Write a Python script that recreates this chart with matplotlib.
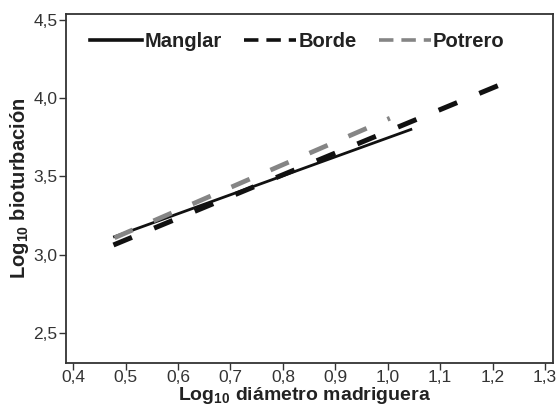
import numpy as np
import matplotlib
matplotlib.use('Agg')
import matplotlib.pyplot as plt
from matplotlib.ticker import FuncFormatter
from matplotlib.lines import Line2D

plt.rcParams['font.family'] = ['Liberation Sans', 'DejaVu Sans']
plt.rcParams['mathtext.fontset'] = 'custom'
plt.rcParams['mathtext.rm'] = 'Liberation Sans'
plt.rcParams['mathtext.bf'] = 'Liberation Sans:bold'

# regression lines (start / end points)
manglar_x = [0.479, 1.044]
manglar_y = [3.115, 3.80]
borde_x = [0.477, 1.21]
borde_y = [3.062, 4.08]
potrero_x = [0.479, 1.004]
potrero_y = [3.108, 3.872]

series = ['Manglar', 'Borde', 'Potrero']
xticks = [0.4, 0.5, 0.6, 0.7, 0.8, 0.9, 1.0, 1.1, 1.2, 1.3]
yticks = [2.5, 3.0, 3.5, 4.0, 4.5]

fig = plt.figure(figsize=(5.6, 4.07), dpi=100)
ax = fig.add_axes([66/560, 1 - 363/407, (553-66)/560, (363-14)/407])

ax.plot(manglar_x, manglar_y, color='#111111', lw=2.0, ls='-')
ax.plot(borde_x, borde_y, color='#111111', lw=3.6, ls=(0, (4.0, 4.8)))
ax.plot(potrero_x, potrero_y, color='#858585', lw=3.4, ls=(0, (4.2, 4.8)))

ax.set_xlim(0.3865, 1.315)
ax.set_ylim(2.308, 4.538)
ax.set_xticks(xticks)
ax.set_yticks(yticks)
fmt = FuncFormatter(lambda v, p: ('%.1f' % v).replace('.', ','))
ax.xaxis.set_major_formatter(fmt)
ax.yaxis.set_major_formatter(fmt)
ax.tick_params(direction='out', length=5, width=1, labelsize=12.5, colors='#333333', pad=1)
ax.tick_params(axis='x', pad=0)
for s in ax.spines.values():
    s.set_linewidth(1.3)
    s.set_color('#333333')

ax.set_xlabel(r'Log$_{\mathbf{10}}$ diámetro madriguera', fontsize=14, fontweight='bold',
              color='#222222')
ax.xaxis.set_label_coords(0.49, -0.063)
ax.set_ylabel(r'Log$_{\mathbf{10}}$ bioturbación', fontsize=14.5, fontweight='bold',
              labelpad=2, color='#222222')

handles = [Line2D([], [], color='#111111', lw=2.6, ls='-'),
           Line2D([], [], color='#111111', lw=2.6, ls=(0, (4.0, 2.2))),
           Line2D([], [], color='#858585', lw=2.6, ls=(0, (4.0, 2.2)))]
leg = ax.legend(handles, series, loc='upper center', ncol=3, frameon=False, handlelength=2.6,
                handletextpad=0.1, columnspacing=1.1, borderaxespad=0.5,
                prop={'weight': 'bold', 'size': 14.5}, bbox_to_anchor=(0.475, 1.0))
for t in leg.get_texts():
    t.set_color('#222222')

fig.savefig('out.png', dpi=100)
